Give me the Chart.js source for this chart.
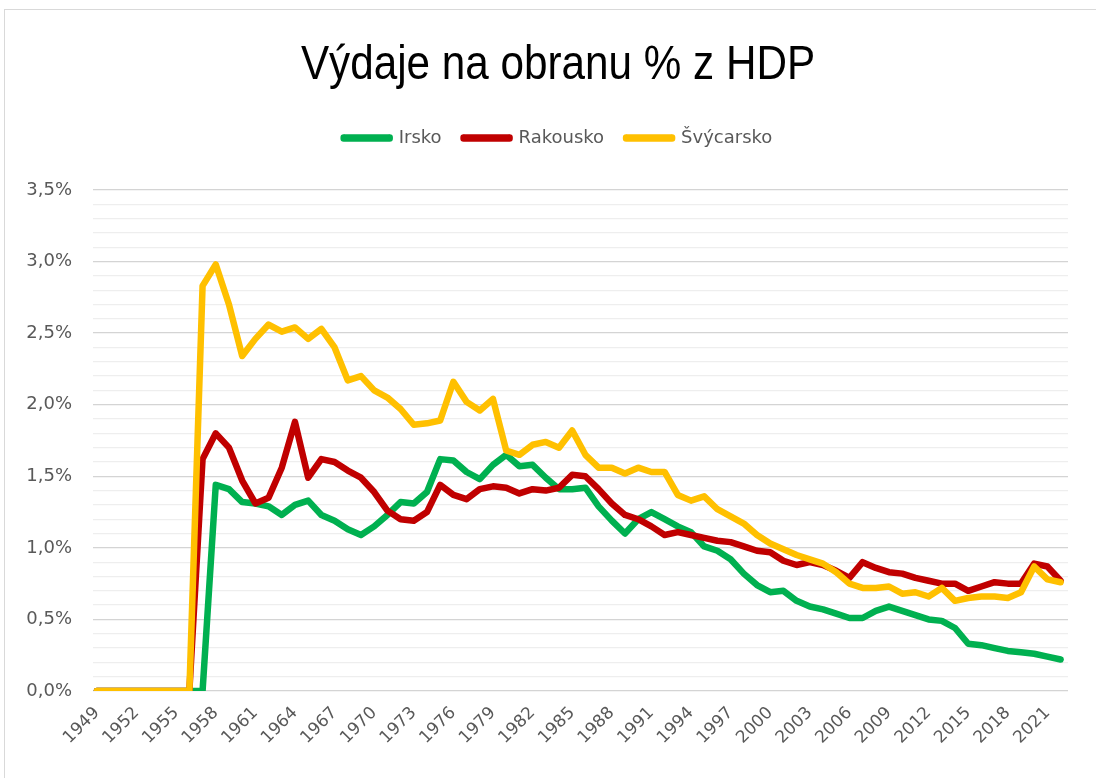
<!DOCTYPE html>
<html lang="cs">
<head>
<meta charset="utf-8">
<title>Výdaje na obranu % z HDP</title>
<script src="https://cdn.jsdelivr.net/npm/chart.js@4.4.0/dist/chart.umd.min.js"></script>
<style>
  html, body { margin: 0; padding: 0; background: #fff; overflow: hidden; }
  #ramecek { position: absolute; left: 4px; top: 9px; width: 1200px; height: 900px; border: 1px solid #d9d9d9; }
  #obal { position: absolute; left: 0; top: 0; width: 1096px; height: 778px; }
  #nadpis {
    position: absolute; left: 0; top: 39px; width: 1116px; margin: 0;
    text-align: center; font: normal 48px/48px "Liberation Sans", Arial, sans-serif; color: #000;
    transform: scaleX(0.88); transform-origin: 558px 0; z-index: 2;
  }
</style>
</head>
<body>
<div id="ramecek"></div>
<div id="obal"><canvas id="graf"></canvas></div>
<h1 id="nadpis">Výdaje na obranu % z HDP</h1>
<script>
// roky (kategorie osy x)
const roky = [
  1949, 1950, 1951, 1952, 1953, 1954, 1955, 1956, 1957, 1958,
  1959, 1960, 1961, 1962, 1963, 1964, 1965, 1966, 1967, 1968,
  1969, 1970, 1971, 1972, 1973, 1974, 1975, 1976, 1977, 1978,
  1979, 1980, 1981, 1982, 1983, 1984, 1985, 1986, 1987, 1988,
  1989, 1990, 1991, 1992, 1993, 1994, 1995, 1996, 1997, 1998,
  1999, 2000, 2001, 2002, 2003, 2004, 2005, 2006, 2007, 2008,
  2009, 2010, 2011, 2012, 2013, 2014, 2015, 2016, 2017, 2018,
  2019, 2020, 2021, 2022
];

// popisky osy x
const popiskyX = [
  1949, 1952, 1955, 1958, 1961, 1964, 1967, 1970, 1973, 1976, 1979, 1982, 1985,
  1988, 1991, 1994, 1997, 2000, 2003, 2006, 2009, 2012, 2015, 2018, 2021
];

// výdaje v % HDP
const irsko = [
  0, 0, 0, 0, 0, 0, 0, 0, 0, 1.44,
  1.41, 1.32, 1.31, 1.29, 1.23, 1.30, 1.33, 1.23, 1.19, 1.13,
  1.09, 1.15, 1.23, 1.32, 1.31, 1.39, 1.62, 1.61, 1.53, 1.48,
  1.58, 1.65, 1.57, 1.58, 1.49, 1.41, 1.41, 1.42, 1.29, 1.19,
  1.10, 1.20, 1.25, 1.20, 1.15, 1.11, 1.01, 0.98, 0.92, 0.82,
  0.74, 0.69, 0.70, 0.63, 0.59, 0.57, 0.54, 0.51, 0.51, 0.56,
  0.59, 0.56, 0.53, 0.50, 0.49, 0.44, 0.33, 0.32, 0.30, 0.28,
  0.27, 0.26, 0.24, 0.22
];

const rakousko = [
  0, 0, 0, 0, 0, 0, 0, 0, 1.62, 1.80,
  1.70, 1.47, 1.31, 1.35, 1.56, 1.88, 1.49, 1.62, 1.60, 1.54,
  1.49, 1.39, 1.26, 1.20, 1.19, 1.25, 1.44, 1.37, 1.34, 1.41,
  1.43, 1.42, 1.38, 1.41, 1.40, 1.42, 1.51, 1.50, 1.41, 1.31,
  1.23, 1.20, 1.15, 1.09, 1.11, 1.09, 1.07, 1.05, 1.04, 1.01,
  0.98, 0.97, 0.91, 0.88, 0.90, 0.88, 0.84, 0.79, 0.90, 0.86,
  0.83, 0.82, 0.79, 0.77, 0.75, 0.75, 0.70, 0.73, 0.76, 0.75,
  0.75, 0.89, 0.87, 0.77
];

const svycarsko = [
  0, 0, 0, 0, 0, 0, 0, 0, 2.83, 2.98,
  2.70, 2.34, 2.46, 2.56, 2.51, 2.54, 2.46, 2.53, 2.40, 2.17,
  2.20, 2.10, 2.05, 1.97, 1.86, 1.87, 1.89, 2.16, 2.02, 1.96,
  2.04, 1.68, 1.65, 1.72, 1.74, 1.70, 1.82, 1.65, 1.56, 1.56,
  1.52, 1.56, 1.53, 1.53, 1.37, 1.33, 1.36, 1.27, 1.22, 1.17,
  1.09, 1.03, 0.99, 0.95, 0.92, 0.89, 0.83, 0.75, 0.72, 0.72,
  0.73, 0.68, 0.69, 0.66, 0.72, 0.63, 0.65, 0.66, 0.66, 0.65,
  0.69, 0.87, 0.78, 0.76
];

const sedaText = '#595959';

function jeHlavni(v) {
  return Math.abs(v * 2 - Math.round(v * 2)) < 1e-6;
}

function body(hodnoty) {
  return roky.map((rok, i) => ({ x: rok, y: hodnoty[i] }));
}

function rada(nazev, hodnoty, barva, poradi) {
  return {
    label: nazev,
    data: body(hodnoty),
    borderColor: barva,
    backgroundColor: barva,
    borderWidth: 6.5,
    borderJoinStyle: 'round',
    borderCapStyle: 'round',
    pointRadius: 0,
    tension: 0,
    fill: false,
    order: poradi
  };
}

// mezera pod legendou a posun legendy doprava
const upravaLegendy = {
  id: 'upravaLegendy',
  beforeInit(chart) {
    const legenda = chart.legend;
    const puvodniFit = legenda.fit;
    const puvodniDraw = legenda.draw;
    legenda.fit = function () {
      puvodniFit.call(this);
      this.height += 33;
    };
    legenda.draw = function () {
      this.ctx.save();
      this.ctx.translate(14, 0);
      puvodniDraw.call(this);
      this.ctx.restore();
    };
  }
};

const ctx = document.getElementById('graf').getContext('2d');

new Chart(ctx, {
  type: 'line',
  data: {
    datasets: [
      rada('Irsko', irsko, '#00b050', 2),
      rada('Rakousko', rakousko, '#c00000', 1),
      rada('Švýcarsko', svycarsko, '#ffc000', 0)
    ]
  },
  options: {
    responsive: true,
    maintainAspectRatio: false,
    animation: false,
    layout: { padding: { left: 20, right: 28, top: 107, bottom: 0 } },
    plugins: {
      title: { display: false },
      legend: {
        position: 'top',
        labels: {
          color: sedaText,
          font: { family: 'DejaVu Sans', size: 18 },
          boxWidth: 46,
          boxHeight: 1,
          useBorderRadius: true,
          borderRadius: 1,
          padding: 22,
          sort: (a, b) => a.datasetIndex - b.datasetIndex
        }
      },
      tooltip: { enabled: false }
    },
    scales: {
      x: {
        type: 'linear',
        min: 1948.7,
        max: 2022.56,
        grid: { display: false },
        border: { display: false },
        afterBuildTicks: osa => { osa.ticks = popiskyX.map(v => ({ value: v })); },
        afterFit: osa => { osa.height = 87; },
        ticks: {
          autoSkip: false,
          minRotation: 45,
          maxRotation: 45,
          padding: 4,
          color: sedaText,
          font: { family: 'DejaVu Sans', size: 17 },
          callback: v => String(v)
        }
      },
      y: {
        min: 0,
        max: 3.5,
        border: { display: false },
        afterFit: osa => { osa.width = 73; },
        grid: {
          drawTicks: false,
          lineWidth: 1.3,
          color: c => jeHlavni(c.tick.value) ? '#d4d4d4' : '#eeeeee'
        },
        ticks: {
          stepSize: 0.1,
          maxTicksLimit: 100,
          autoSkip: false,
          padding: 21,
          color: sedaText,
          font: { family: 'DejaVu Sans', size: 18 },
          callback: v => jeHlavni(v) ? v.toFixed(1).replace('.', ',') + '%' : ''
        }
      }
    }
  },
  plugins: [upravaLegendy]
});
</script>
</body>
</html>
